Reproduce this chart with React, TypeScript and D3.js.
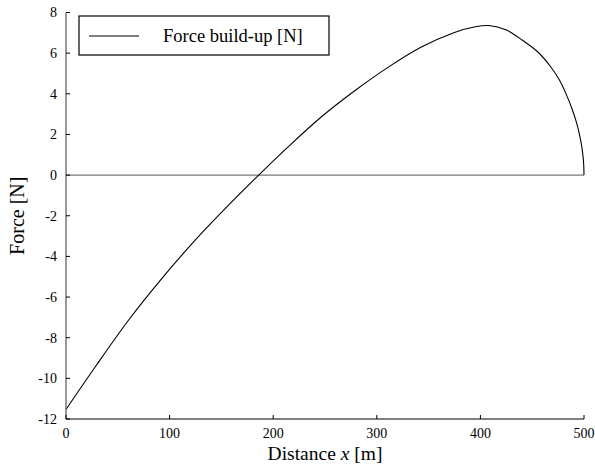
import React from "react";
import * as d3 from "d3";

const distance = [0, 28.3, 60.5, 92.6, 124.7, 156.9, 186, 214.4, 246.6, 278.7, 310.8, 343, 375, 395, 408, 425, 441, 455, 468, 476, 483, 489, 493, 497, 499, 499.7, 500];
const force = [-11.53, -9.43, -7.13, -5.08, -3.2, -1.48, 0, 1.39, 2.87, 4.15, 5.3, 6.3, 7.02, 7.3, 7.36, 7.14, 6.62, 6.08, 5.32, 4.7, 3.96, 3.18, 2.54, 1.66, 0.96, 0.53, 0];
const xTicks = [0, 100, 200, 300, 400, 500];
const yTicks = [-12, -10, -8, -6, -4, -2, 0, 2, 4, 6, 8];
const legendLabel = "Force build-up [N]";

const W = 595, H = 466;
const left = 66, right = 584, top = 12.5, bottom = 419;
const FONT = "'Liberation Serif', 'Times New Roman', Times, serif";

export default function App() {
  const x = d3.scaleLinear().domain([0, 500]).range([left, right]);
  const y = d3.scaleLinear().domain([-12, 8]).range([bottom, top]);
  const pts: [number, number][] = distance.map((d, i) => [d, force[i]]);
  const line = d3.line<[number, number]>().x(d => x(d[0])).y(d => y(d[1])).curve(d3.curveCatmullRom.alpha(0.5));
  return (
    <div style={{ position: "absolute", left: 0, top: 0 }}>
      <svg width={W} height={H} style={{ display: "block", background: "#fff", fontFamily: FONT }}>
        <line x1={x(0)} x2={x(500)} y1={y(0)} y2={y(0)} stroke="#555" strokeWidth={1} />
        <path d={line(pts) || ""} fill="none" stroke="#000" strokeWidth={1.1} />
        <line x1={left} x2={left} y1={top} y2={bottom} stroke="#555" strokeWidth={1.2} />
        {yTicks.map(t => (
          <g key={"y" + t}>
            <line x1={left} x2={left + 4} y1={y(t)} y2={y(t)} stroke="#000" strokeWidth={1} />
            <text x={left - 9} y={y(t)} dy="0.35em" textAnchor="end" fontSize={14} fill="#000" style={{ fontFamily: FONT }}>{String(t)}</text>
          </g>
        ))}
        <line x1={left} x2={right} y1={bottom} y2={bottom} stroke="#000" strokeWidth={1.2} />
        {xTicks.map(t => (
          <g key={"x" + t}>
            <line x1={x(t)} x2={x(t)} y1={bottom} y2={bottom - 4} stroke="#000" strokeWidth={1} />
            <text x={x(t)} y={438} textAnchor="middle" fontSize={14} fill="#000" style={{ fontFamily: FONT }}>{String(t)}</text>
          </g>
        ))}
        <text x={325} y={460} textAnchor="middle" fontSize={19.5} fill="#000" style={{ fontFamily: FONT }}>
          Distance <tspan fontStyle="italic">x</tspan> [m]
        </text>
        <text transform={`translate(24,${(top + bottom) / 2}) rotate(-90)`} textAnchor="middle" fontSize={20} fill="#000" style={{ fontFamily: FONT }}>Force [N]</text>
        <rect x={79} y={16} width={250} height={39} fill="#fff" stroke="#000" strokeWidth={1.2} />
        <line x1={89} x2={139} y1={36} y2={36} stroke="#000" strokeWidth={1} />
        <text x={163} y={42} fontSize={18.5} fill="#000" style={{ fontFamily: FONT }}>{legendLabel}</text>
      </svg>
    </div>
  );
}
